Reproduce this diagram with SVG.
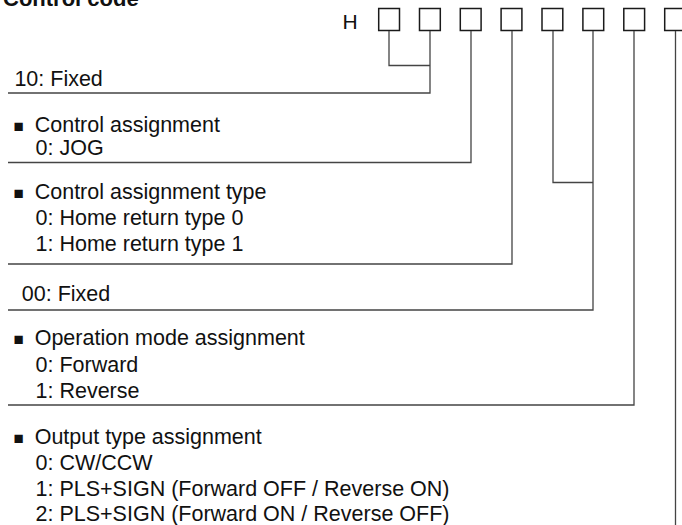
<svg xmlns="http://www.w3.org/2000/svg" width="682" height="525" viewBox="0 0 682 525">
<style>
  text { font-family: "Liberation Sans", Arial, sans-serif; font-size: 21.5px; fill: #111; }
  .title { font-weight: bold; font-size: 22px; }
  .h { font-size: 21px; }
  .bul { font-size: 17px; }
  .box { fill: #fff; stroke: #1a1a1a; stroke-width: 1.5; }
  .conn { fill: none; stroke: #444; stroke-width: 1.3; }
</style>
<rect width="682" height="525" fill="#fff"/>
<text class="title" x="3" y="5.5">Control code</text>
<g id="code">
  <text class="h" x="342.5" y="28.8">H</text>
  <rect class="box" x="378.7" y="8.5" width="20.8" height="22"/>
  <rect class="box" x="419.5" y="8.5" width="20.8" height="22"/>
  <rect class="box" x="460.3" y="8.5" width="20.8" height="22"/>
  <rect class="box" x="501.1" y="8.5" width="20.8" height="22"/>
  <rect class="box" x="542" y="8.5" width="20.8" height="22"/>
  <rect class="box" x="582.9" y="8.5" width="20.8" height="22"/>
  <rect class="box" x="623.8" y="8.5" width="20.8" height="22"/>
  <rect class="box" x="664.7" y="8.5" width="20.8" height="22"/>
</g>
<g id="connectors">
  <path class="conn" d="M389 31 V65.5 H430"/>
  <path class="conn" d="M430 31 V93 H8"/>
  <path class="conn" d="M471 31 V162.5 H8"/>
  <path class="conn" d="M512 31 V264 H8"/>
  <path class="conn" d="M553 31 V182.5 H593"/>
  <path class="conn" d="M593 31 V310 H8"/>
  <path class="conn" d="M634 31 V405 H8"/>
  <path class="conn" d="M675.5 31 V525"/>
</g>
<g id="fixed10">
  <text x="14.4" y="86">10: Fixed</text>
</g>
<g id="control-assignment">
  <text class="bul" x="13.5" y="132">■</text>
  <text x="34.7" y="132">Control assignment</text>
  <text x="35.5" y="155">0: JOG</text>
</g>
<g id="control-assignment-type">
  <text class="bul" x="13.5" y="199">■</text>
  <text x="34.7" y="199">Control assignment type</text>
  <text x="35.5" y="225">0: Home return type 0</text>
  <text x="35.5" y="251">1: Home return type 1</text>
</g>
<g id="fixed00">
  <text x="21.8" y="300.7">00: Fixed</text>
</g>
<g id="operation-mode">
  <text class="bul" x="13.5" y="345">■</text>
  <text x="34.7" y="345">Operation mode assignment</text>
  <text x="35.5" y="371.7">0: Forward</text>
  <text x="35.5" y="398.3">1: Reverse</text>
</g>
<g id="output-type">
  <text class="bul" x="13.5" y="444">■</text>
  <text x="34.7" y="444">Output type assignment</text>
  <text x="35.5" y="469.5">0: CW/CCW</text>
  <text x="35.5" y="495.5">1: PLS+SIGN (Forward OFF / Reverse ON)</text>
  <text x="35.5" y="521">2: PLS+SIGN (Forward ON / Reverse OFF)</text>
</g>
</svg>
